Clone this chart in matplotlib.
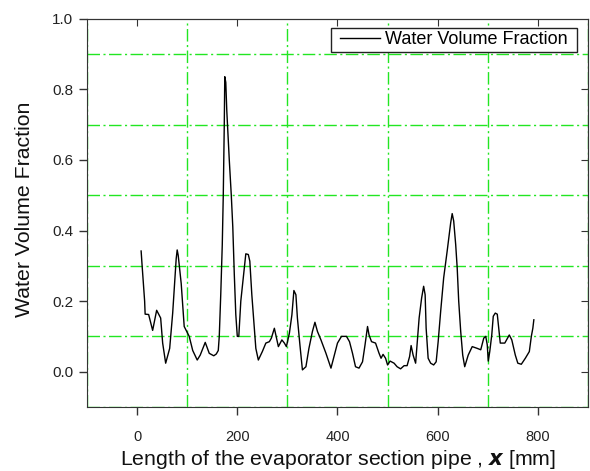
import matplotlib
matplotlib.use("Agg")
import matplotlib.pyplot as plt
from matplotlib.path import Path
from matplotlib.ticker import MultipleLocator, FormatStrFormatter

plt.rcParams['font.family'] = ['Liberation Sans', 'DejaVu Sans']

# valori
x_mm = [8, 10, 15, 16, 23, 31, 39, 47, 51, 57, 65, 71, 78, 80, 82, 88, 94,
        104, 111, 120, 126, 136, 144, 153, 158, 162, 164, 167, 170, 172, 174,
        175, 177, 179, 184, 188, 191, 194, 197, 200, 203, 207, 214, 217, 222,
        225, 229, 234, 237, 242, 250, 257, 264, 268, 274, 277, 282, 289, 294,
        298, 304, 309, 313, 317, 320, 325, 330, 337, 343, 350, 355, 360, 367,
        377, 387, 393, 400, 408, 418, 424, 430, 436, 443, 450, 455, 460, 463,
        468, 476, 483, 487, 491, 496, 500, 505, 513, 519, 526, 533, 539, 544,
        547, 551, 556, 559, 563, 568, 572, 575, 577, 581, 586, 592, 597, 601,
        606, 612, 619, 626, 629, 632, 636, 639, 642, 646, 650, 654, 661, 669,
        679, 686, 692, 696, 699, 701, 704, 708, 711, 715, 719, 722, 725, 734,
        743, 748, 755, 760, 767, 775, 783, 787, 790, 792]
wvf = [0.342, 0.30, 0.20, 0.163, 0.162, 0.117, 0.174, 0.152, 0.081, 0.024,
       0.066, 0.166, 0.32, 0.345, 0.33, 0.25, 0.128,
       0.10, 0.06, 0.033, 0.047, 0.083, 0.052, 0.045, 0.05, 0.06, 0.10, 0.22,
       0.36, 0.50, 0.70,
       0.836, 0.82, 0.74, 0.60, 0.50, 0.41, 0.276, 0.162, 0.10, 0.10, 0.20,
       0.294, 0.334, 0.332,
       0.313, 0.218, 0.123, 0.066, 0.033, 0.057, 0.081, 0.085, 0.095, 0.123,
       0.104, 0.071, 0.09, 0.081,
       0.071, 0.109, 0.161, 0.23, 0.218, 0.152, 0.076, 0.005, 0.014, 0.066,
       0.114, 0.14, 0.114, 0.09,
       0.052, 0.01, 0.043, 0.081, 0.10, 0.10, 0.085, 0.052, 0.014, 0.01,
       0.028, 0.076, 0.128, 0.104,
       0.085, 0.081, 0.052, 0.038, 0.049, 0.038, 0.019, 0.03, 0.024, 0.014,
       0.008, 0.017, 0.017, 0.043,
       0.074, 0.047, 0.024, 0.08, 0.152, 0.209, 0.242, 0.218, 0.123, 0.038,
       0.024, 0.019, 0.028, 0.085,
       0.171, 0.266, 0.342, 0.422, 0.448, 0.427, 0.36, 0.294, 0.20, 0.114,
       0.047, 0.014, 0.047, 0.071,
       0.066, 0.062, 0.095, 0.10, 0.076, 0.03, 0.057, 0.104, 0.157, 0.166,
       0.163, 0.123, 0.081, 0.081,
       0.104, 0.09, 0.047, 0.024, 0.021, 0.038, 0.057, 0.10, 0.123, 0.147]

x_major = [0, 200, 400, 600, 800]
y_major_right = [0.0, 0.2, 0.4, 0.6, 0.8]


def box_largo(x0, y0, width, height, mutation_size):
    # cornice della legenda più larga ai lati
    px = 0.3 * mutation_size
    return Path([(x0 - px, y0), (x0 + width + px, y0),
                 (x0 + width + px, y0 + height), (x0 - px, y0 + height),
                 (x0 - px, y0)], closed=True)


fig = plt.figure(figsize=(5.9, 4.71), dpi=100)
ax = fig.add_axes([0.1475, 0.136, 0.849, 0.824])

ax.plot(x_mm, wvf, color='black', linewidth=1.0, label='Water Volume Fraction')

ax.set_xlim(-100, 900)
ax.set_ylim(-0.1, 1.0)
ax.xaxis.set_major_locator(MultipleLocator(200))
ax.xaxis.set_minor_locator(MultipleLocator(100))
ax.yaxis.set_major_locator(MultipleLocator(0.2))
ax.yaxis.set_minor_locator(MultipleLocator(0.1))
ax.yaxis.set_major_formatter(FormatStrFormatter('%.1f'))

# griglia verde tratto-punto sulle tacche secondarie
ax.grid(which='minor', color='#22e622', linestyle=(0, (9, 2.5, 1.5, 2.5)),
        linewidth=1.0)
ax.grid(which='major', visible=False)

ax.tick_params(which='both', direction='out', top=False, right=False,
               width=1, color='#333333', labelcolor='#222222')
ax.tick_params(which='minor', length=0)
ax.tick_params(axis='y', which='major', length=6, pad=4, labelsize=11)
ax.tick_params(axis='x', which='major', length=5.5, pad=11, labelsize=10.5)

sec = ax.secondary_xaxis('top')
sec.set_xticks(x_major)
sec.tick_params(direction='in', labeltop=False, length=5, color='#333333')
secy = ax.secondary_yaxis('right')
secy.set_yticks(y_major_right)
secy.tick_params(direction='in', labelright=False, length=5, color='#333333')

for s in ax.spines.values():
    s.set_color('#333333')
for s in sec.spines.values():
    s.set_color('#333333')
for s in secy.spines.values():
    s.set_color('#333333')

ax.set_xlabel('Length of the evaporator section pipe , $\\boldsymbol{x}$ [mm]',
              fontsize=15.3, color='#111111')
ax.xaxis.set_label_coords(0.5, -0.105, transform=ax.transAxes)
ax.set_ylabel('Water Volume Fraction', fontsize=15.3, color='#111111')
ax.yaxis.set_label_coords(-0.106, 0.51, transform=ax.transAxes)

leg = ax.legend(loc='upper right', bbox_to_anchor=(0.985, 1.0), fontsize=13,
                fancybox=False, framealpha=1, edgecolor='#222222',
                borderaxespad=0.5, handlelength=2.2, handletextpad=0.3,
                borderpad=0.2)
leg.get_frame().set_linewidth(1.0)
leg.get_frame().set_boxstyle(box_largo)

fig.savefig('out.png', dpi=100)
